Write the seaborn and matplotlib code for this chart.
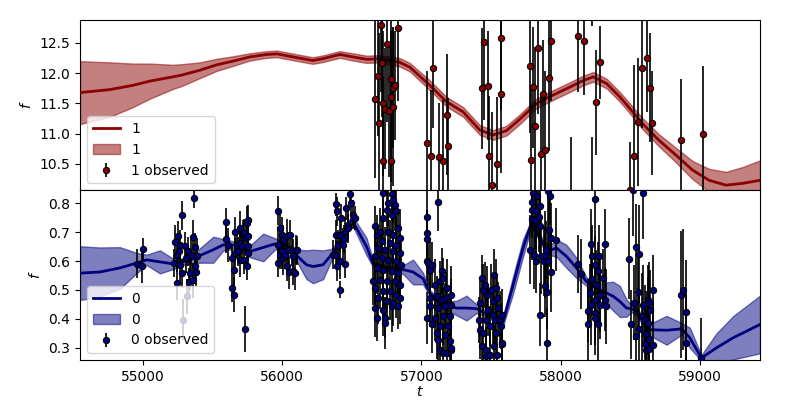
import numpy as np
import pandas as pd
import matplotlib
matplotlib.use("Agg")
import matplotlib.pyplot as plt
import seaborn as sns

# GP model, band 1 (top)
t_gp1 = [54548, 54763, 54928, 55050, 55215, 55280, 55409, 55531, 55646, 55768,
         55890, 55962, 56077, 56220, 56292, 56414, 56508, 56608, 56700, 56845,
         56917, 57061, 57180, 57300, 57420, 57515, 57610, 57707, 57826, 57946,
         58066, 58162, 58234, 58330, 58425, 58467, 58587, 58707, 58827, 58947,
         59067, 59187, 59307, 59432]
mu_gp1 = [11.68, 11.73, 11.80, 11.87, 11.94, 11.97, 12.05, 12.14, 12.20, 12.27,
          12.31, 12.32, 12.27, 12.21, 12.24, 12.31, 12.27, 12.23, 12.24, 12.18,
          12.10, 11.80, 11.53, 11.36, 11.06, 10.98, 11.05, 11.24, 11.50, 11.64,
          11.77, 11.88, 11.94, 11.83, 11.61, 11.50, 11.17, 10.89, 10.65, 10.40,
          10.23, 10.15, 10.18, 10.23]
sd_gp1 = [0.52, 0.45, 0.36, 0.29, 0.20, 0.18, 0.13, 0.10, 0.08, 0.06,
          0.055, 0.055, 0.055, 0.055, 0.055, 0.055, 0.06, 0.06, 0.06, 0.07,
          0.07, 0.08, 0.08, 0.08, 0.08, 0.08, 0.08, 0.08, 0.08, 0.08,
          0.08, 0.08, 0.08, 0.08, 0.08, 0.08, 0.09, 0.10, 0.12, 0.15,
          0.19, 0.22, 0.27, 0.33]

# observations, band 1
t_obs1 = [56666, 56689, 56696, 56709, 56719, 56721, 56725, 56739, 56754, 56766,
          56783, 56783, 56783, 56793, 56797, 56814, 56834, 57041, 57071, 57086,
          57125, 57157, 57186, 57190, 57436, 57450, 57479, 57486, 57508, 57544,
          57570, 57572, 57780, 57788, 57802, 57816, 57838, 57857, 57874, 57891,
          57917, 57929, 58078, 58125, 58168, 58223, 58228, 58254, 58283, 58496,
          58527, 58557, 58585, 58618, 58643, 58656, 58866, 59022]
f_obs1 = [11.57, 11.96, 11.17, 12.79, 12.17, 11.50, 10.55, 11.41, 12.49, 11.38,
          11.90, 11.60, 10.55, 11.76, 11.44, 11.80, 12.74, 10.84, 10.63, 12.09,
          10.61, 10.55, 11.31, 10.79, 11.75, 12.52, 11.79, 10.63, 10.16, 10.50,
          11.65, 12.59, 12.12, 10.56, 11.77, 11.13, 12.42, 10.67, 11.65, 10.73,
          11.92, 12.54, 9.95, 12.62, 12.54, 9.95, 13.30, 11.52, 12.18, 10.07,
          10.64, 11.20, 12.09, 12.26, 11.76, 11.17, 10.89, 10.99]
e_obs1 = [1.3, 1.0, 1.5, 1.1, 0.9, 1.2, 1.4, 1.0, 1.3, 1.1,
          0.8, 1.4, 1.1, 1.0, 1.3, 0.9, 1.2, 1.2, 1.1, 1.0,
          0.9, 1.0, 1.0, 0.8, 1.0, 1.3, 0.9, 1.0, 1.2, 1.1,
          1.3, 1.2, 1.1, 1.2, 1.0, 1.3, 1.1, 1.0, 0.9, 1.3,
          1.2, 1.0, 1.0, 0.93, 0.9, 1.0, 0.52, 0.87, 0.6, 0.8,
          1.5, 1.06, 1.0, 0.9, 0.9, 0.86, 1.02, 1.13]

# GP model, band 0 (bottom)
t_gp0 = [54548, 54691, 54835, 54955, 55027, 55122, 55218, 55266, 55337, 55409,
         55505, 55577, 55661, 55768, 55864, 55948, 56020, 56091, 56175, 56222,
         56294, 56354, 56438, 56498, 56534, 56606, 56654, 56760, 56869, 56940,
         57012, 57061, 57147, 57252, 57324, 57396, 57491, 57587, 57659, 57730,
         57791, 57838, 57886, 57934, 57970, 58042, 58114, 58185, 58233, 58305,
         58377, 58425, 58473, 58509, 58545, 58593, 58641, 58761, 58869, 58928,
         59011, 59119, 59239, 59432]
mu_gp0 = [0.558, 0.562, 0.576, 0.593, 0.604, 0.597, 0.590, 0.595, 0.603, 0.619,
          0.639, 0.656, 0.655, 0.633, 0.647, 0.659, 0.655, 0.625, 0.587, 0.581,
          0.587, 0.622, 0.680, 0.745, 0.714, 0.650, 0.590, 0.575, 0.570, 0.562,
          0.539, 0.489, 0.450, 0.437, 0.437, 0.435, 0.410, 0.391, 0.518, 0.645,
          0.731, 0.691, 0.650, 0.639, 0.645, 0.616, 0.576, 0.529, 0.512, 0.495,
          0.478, 0.460, 0.437, 0.435, 0.426, 0.391, 0.362, 0.360, 0.365, 0.334,
          0.264, 0.299, 0.334, 0.380]
sd_gp0 = [0.093, 0.085, 0.072, 0.035, 0.018, 0.040, 0.018, 0.012, 0.012, 0.025,
          0.045, 0.020, 0.012, 0.020, 0.048, 0.020, 0.012, 0.015, 0.050, 0.058,
          0.050, 0.020, 0.012, 0.012, 0.020, 0.030, 0.012, 0.008, 0.015, 0.043,
          0.020, 0.010, 0.010, 0.025, 0.043, 0.015, 0.010, 0.015, 0.030, 0.030,
          0.012, 0.012, 0.015, 0.020, 0.030, 0.040, 0.035, 0.015, 0.015, 0.030,
          0.050, 0.054, 0.030, 0.012, 0.015, 0.015, 0.020, 0.050, 0.020, 0.035,
          0.010, 0.050, 0.075, 0.100]

# observations, band 0 (one line block per season)
t_obs0 = [
    54959, 54993, 54998,
    55225, 55232, 55242, 55242, 55249, 55258, 55266, 55266,
    55282, 55282, 55289, 55302, 55309, 55314, 55325, 55332,
    55337, 55345, 55357, 55361, 55368, 55373, 55373, 55381,
    55390,
    55594, 55594, 55612, 55637, 55641, 55653, 55653, 55661,
    55661, 55673, 55684, 55696, 55696, 55696, 55709, 55720,
    55727, 55727, 55732, 55739, 55744, 55744, 55756, 55756,
    55756, 55756,
    55971, 55971, 55971, 55984, 55984, 55996, 55996, 56007,
    56007, 56020, 56032, 56032, 56043, 56050, 56055, 56068,
    56079, 56079, 56091, 56096, 56103,
    56366, 56386, 56390, 56390, 56395, 56395, 56402, 56414,
    56414, 56419, 56426, 56438, 56443, 56450, 56450, 56462,
    56473, 56473, 56486, 56498, 56509, 56522,
    56654, 56666, 56666, 56666, 56666, 56678, 56678, 56678,
    56690, 56690, 56702, 56702, 56714, 56714, 56725, 56725,
    56725, 56725, 56725, 56738, 56738, 56738, 56750, 56750,
    56750, 56762, 56762, 56762, 56774, 56774, 56786, 56786,
    56786, 56786, 56797, 56797, 56797, 56797, 56809, 56809,
    56821, 56821, 56821, 56821, 56833, 56833, 56833, 56845,
    56845, 56845, 56845, 56857,
    57037, 57037, 57037, 57037, 57037, 57048, 57061, 57061,
    57061, 57073, 57073, 57096, 57096, 57109, 57109, 57120,
    57120, 57120, 57132, 57132, 57132, 57144, 57151, 57156,
    57156, 57156, 57168, 57168, 57180, 57185, 57185, 57192,
    57204, 57204, 57216, 57216, 57216, 57216,
    57412, 57419, 57419, 57432, 57434, 57439, 57443, 57455,
    57462, 57462, 57467, 57472, 57479, 57491, 57496, 57503,
    57511, 57515, 57520, 57520, 57527, 57539, 57539, 57544,
    57544, 57551, 57563, 57575, 57577, 57580, 57582,
    57779, 57791, 57791, 57798, 57802, 57809, 57814, 57826,
    57826, 57831, 57845, 57850, 57850, 57850, 57862, 57879,
    57886, 57886, 57898, 57902, 57902, 57910, 57910, 57917,
    57922, 57934, 57934, 57965,
    58123, 58149, 58197, 58197, 58209, 58221, 58221, 58225,
    58228, 58245, 58245, 58245, 58245, 58245, 58257, 58268,
    58268, 58276, 58281, 58281, 58304, 58316, 58319, 58329,
    58492, 58502, 58521, 58528, 58540, 58540, 58557, 58564,
    58564, 58584, 58591, 58595, 58603, 58608, 58614, 58614,
    58627, 58631, 58638, 58638, 58638, 58643, 58660, 58660,
    58863, 58879, 58898, 58898, 59011,
]
f_obs0 = [
    0.591, 0.584, 0.641,
    0.593, 0.666, 0.622, 0.524, 0.688, 0.636, 0.656, 0.587,
    0.758, 0.558, 0.397, 0.651, 0.610, 0.478, 0.633, 0.527,
    0.558, 0.622, 0.682, 0.533, 0.818, 0.648, 0.581, 0.562,
    0.618,
    0.735, 0.677, 0.656, 0.610, 0.507, 0.570, 0.483, 0.702,
    0.628, 0.656, 0.633, 0.714, 0.604, 0.662, 0.651, 0.691,
    0.604, 0.697, 0.365, 0.680, 0.731, 0.584, 0.628, 0.651,
    0.688, 0.743,
    0.774, 0.656, 0.593, 0.714, 0.622, 0.691, 0.633, 0.674,
    0.610, 0.622, 0.685, 0.581, 0.639, 0.562, 0.691, 0.633,
    0.616, 0.566, 0.558, 0.639, 0.637,
    0.622, 0.691, 0.797, 0.622, 0.772, 0.581, 0.656, 0.691,
    0.599, 0.501, 0.749, 0.656, 0.676, 0.702, 0.590, 0.783,
    0.726, 0.714, 0.832, 0.801, 0.760, 0.749,
    0.529, 0.720, 0.616, 0.507, 0.437, 0.691, 0.576, 0.403,
    0.645, 0.472, 0.702, 0.535, 0.668, 0.610, 0.835, 0.749,
    0.570, 0.495, 0.431, 0.639, 0.403, 0.385, 0.777, 0.529,
    0.460, 0.801, 0.702, 0.604, 0.662, 0.495, 0.832, 0.760,
    0.564, 0.443, 0.812, 0.691, 0.633, 0.455, 0.795, 0.529,
    0.772, 0.656, 0.599, 0.483, 0.714, 0.558, 0.443, 0.680,
    0.628, 0.518, 0.472, 0.587,
    0.752, 0.697, 0.677, 0.599, 0.403, 0.593, 0.570, 0.472,
    0.443, 0.587, 0.380, 0.518, 0.403, 0.478, 0.351, 0.804,
    0.437, 0.328, 0.529, 0.374, 0.293, 0.466, 0.564, 0.541,
    0.408, 0.282, 0.443, 0.345, 0.472, 0.507, 0.282, 0.374,
    0.408, 0.322, 0.483, 0.449, 0.293, 0.299,
    0.397, 0.455, 0.362, 0.541, 0.304, 0.501, 0.351, 0.518,
    0.397, 0.270, 0.293, 0.483, 0.431, 0.276, 0.374, 0.501,
    0.414, 0.460, 0.553, 0.304, 0.397, 0.507, 0.351, 0.472,
    0.276, 0.437, 0.397, 0.374, 0.414, 0.313, 0.316,
    0.639, 0.778, 0.745, 0.806, 0.835, 0.622, 0.743, 0.772,
    0.599, 0.824, 0.751, 0.789, 0.720, 0.414, 0.616, 0.599,
    0.622, 0.515, 0.639, 0.493, 0.316, 0.841, 0.599, 0.708,
    0.824, 0.680, 0.562, 0.674,
    0.590, 0.555, 0.428, 0.382, 0.489, 0.659, 0.449, 0.616,
    0.539, 0.815, 0.587, 0.466, 0.420, 0.403, 0.518, 0.566,
    0.382, 0.616, 0.483, 0.449, 0.541, 0.466, 0.659, 0.443,
    0.608, 0.380, 0.845, 0.455, 0.648, 0.341, 0.493, 0.624,
    0.366, 0.408, 0.446, 0.835, 0.397, 0.313, 0.347, 0.290,
    0.385, 0.466, 0.455, 0.331, 0.295, 0.429, 0.500, 0.310,
    0.483, 0.500, 0.422, 0.316, 0.264,
]
e_obs0 = [
    0.05, 0.06, 0.04,
    0.05, 0.06, 0.06, 0.06, 0.05, 0.05, 0.05, 0.06,
    0.05, 0.05, 0.07, 0.05, 0.05, 0.06, 0.05, 0.05,
    0.06, 0.06, 0.06, 0.06, 0.035, 0.05, 0.05, 0.05,
    0.06,
    0.05, 0.05, 0.06, 0.05, 0.05, 0.06, 0.06, 0.05,
    0.05, 0.05, 0.05, 0.06, 0.06, 0.05, 0.06, 0.05,
    0.05, 0.05, 0.08, 0.05, 0.06, 0.05, 0.06, 0.05,
    0.05, 0.05,
    0.05, 0.05, 0.05, 0.05, 0.05, 0.06, 0.06, 0.05,
    0.06, 0.05, 0.06, 0.05, 0.06, 0.06, 0.05, 0.05,
    0.06, 0.05, 0.06, 0.05, 0.05,
    0.05, 0.05, 0.04, 0.05, 0.05, 0.05, 0.05, 0.06,
    0.06, 0.03, 0.05, 0.06, 0.05, 0.05, 0.05, 0.04,
    0.05, 0.05, 0.04, 0.05, 0.05, 0.04,
    0.08, 0.07, 0.09, 0.08, 0.10, 0.07, 0.09, 0.08,
    0.07, 0.09, 0.08, 0.10, 0.07, 0.08, 0.09, 0.07,
    0.08, 0.10, 0.09, 0.08, 0.07, 0.09, 0.08, 0.10,
    0.07, 0.08, 0.09, 0.07, 0.08, 0.10, 0.09, 0.08,
    0.07, 0.09, 0.08, 0.10, 0.07, 0.08, 0.09, 0.07,
    0.08, 0.10, 0.09, 0.08, 0.07, 0.09, 0.08, 0.10,
    0.07, 0.08, 0.09, 0.08,
    0.09, 0.08, 0.10, 0.07, 0.09, 0.08, 0.10, 0.09,
    0.07, 0.08, 0.10, 0.09, 0.08, 0.07, 0.09, 0.10,
    0.08, 0.09, 0.07, 0.10, 0.08, 0.09, 0.08, 0.07,
    0.10, 0.09, 0.08, 0.07, 0.09, 0.10, 0.08, 0.09,
    0.07, 0.08, 0.10, 0.09, 0.08, 0.09,
    0.08, 0.09, 0.10, 0.08, 0.07, 0.09, 0.10, 0.08,
    0.09, 0.07, 0.08, 0.10, 0.09, 0.08, 0.07, 0.09,
    0.10, 0.08, 0.09, 0.07, 0.08, 0.10, 0.09, 0.08,
    0.07, 0.09, 0.10, 0.08, 0.09, 0.07, 0.08,
    0.12, 0.10, 0.14, 0.11, 0.13, 0.12, 0.10, 0.15,
    0.11, 0.13, 0.12, 0.14, 0.10, 0.11, 0.13, 0.12,
    0.15, 0.11, 0.10, 0.13, 0.12, 0.14, 0.11, 0.13,
    0.10, 0.12, 0.14, 0.11,
    0.10, 0.12, 0.11, 0.13, 0.10, 0.12, 0.14, 0.11,
    0.13, 0.15, 0.10, 0.12, 0.11, 0.13, 0.12, 0.10,
    0.14, 0.11, 0.13, 0.12, 0.10, 0.11, 0.12, 0.13,
    0.14, 0.12, 0.16, 0.13, 0.15, 0.14, 0.12, 0.17,
    0.13, 0.15, 0.14, 0.16, 0.12, 0.13, 0.15, 0.14,
    0.16, 0.12, 0.14, 0.13, 0.15, 0.14, 0.12, 0.15,
    0.22, 0.21, 0.18, 0.17, 0.14,
]

bands = [
    ("1", "darkred", t_gp1, mu_gp1, sd_gp1, t_obs1, f_obs1, e_obs1, (10.07, 12.88)),
    ("0", "navy", t_gp0, mu_gp0, sd_gp0, t_obs0, f_obs0, e_obs0, (0.257, 0.846)),
]

fig, axes = plt.subplots(2, 1, figsize=(8, 4), sharex=True)
fig.subplots_adjust(left=0.1, right=0.95, top=0.95, bottom=0.1, hspace=0)

for ax, (name, col, tg, mu, sd, to, fo, eo, ylim) in zip(axes, bands):
    gp = pd.DataFrame({"t": tg, "mu": mu, "sd": sd})
    sns.lineplot(data=gp, x="t", y="mu", color=col, lw=2, label=name, ax=ax, zorder=3)
    ax.fill_between(gp["t"], gp["mu"] - gp["sd"], gp["mu"] + gp["sd"],
                    color=col, alpha=0.5, label=name, zorder=2)
    ax.errorbar(to, fo, yerr=eo, fmt="o", color=col, mec="k", mew=0.8, ms=4.5,
                ecolor="k", elinewidth=1.2, label=f"{name} observed", zorder=4)
    ax.set_ylim(ylim)
    ax.set_ylabel("$f$")
    ax.set_xlabel("")
    ax.legend(loc="lower left")

axes[1].set_xlim(54548, 59432)
axes[1].set_xlabel("$t$", labelpad=1)

fig.savefig("out.png", dpi=100)
